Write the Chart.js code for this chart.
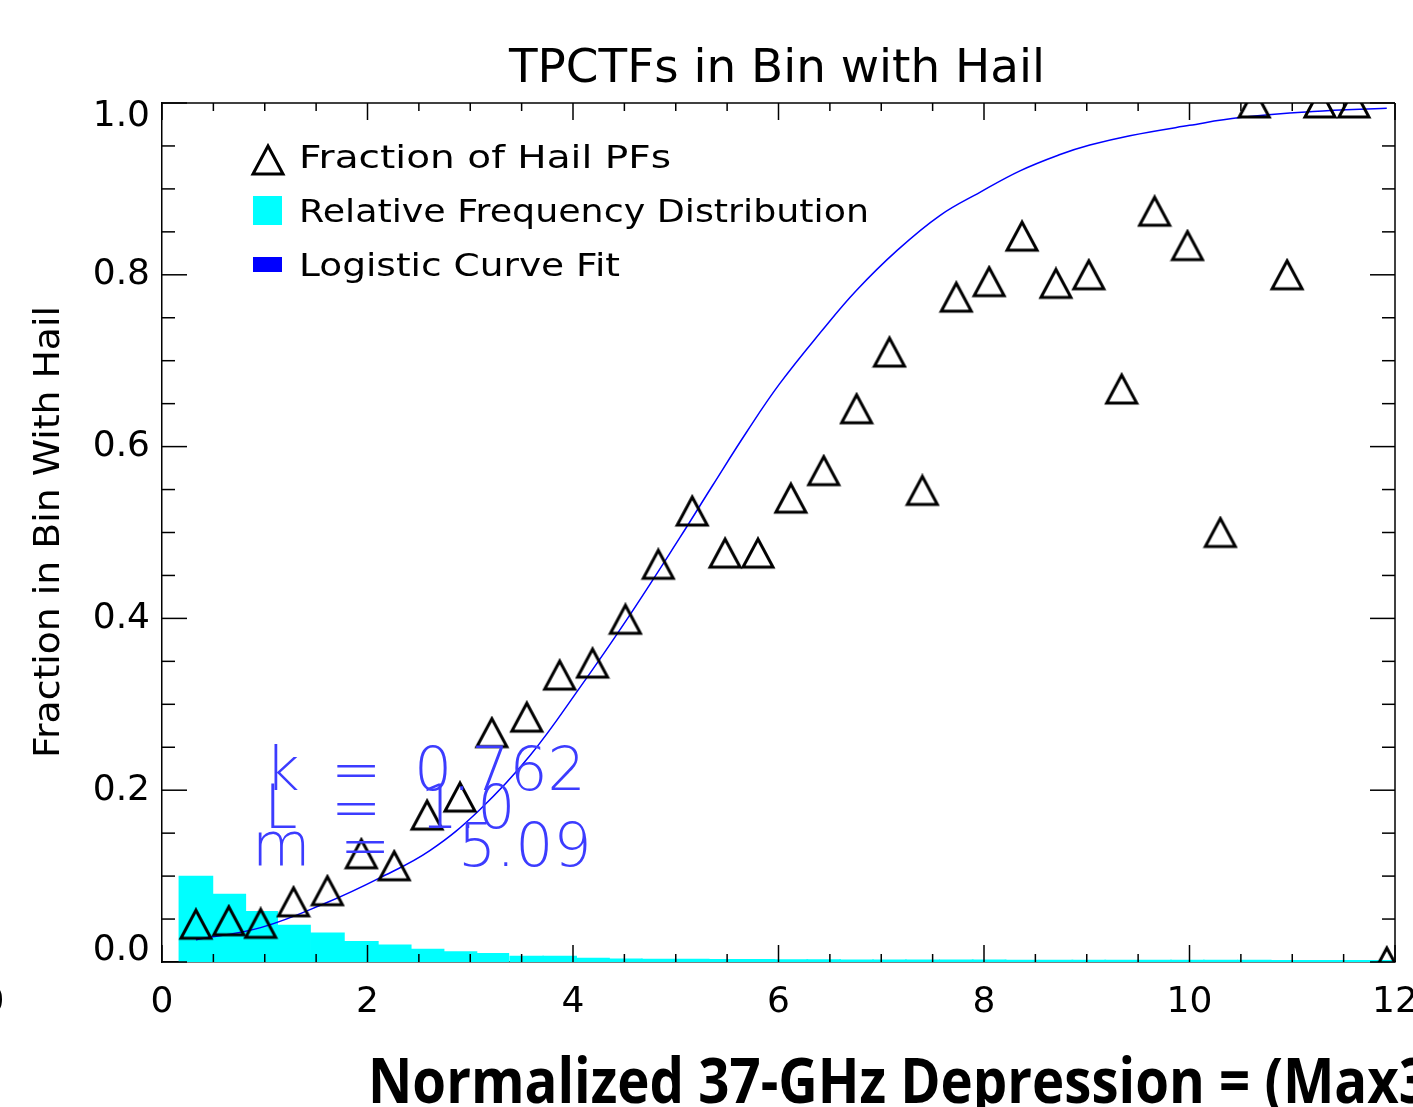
<!DOCTYPE html>
<html>
<head>
<meta charset="utf-8">
<title>TPCTFs in Bin with Hail</title>
<script src="https://cdn.jsdelivr.net/npm/chart.js@4.4.0/dist/chart.umd.min.js"></script>
<style>
	html, body { margin: 0; padding: 0; background: #fff; }
	#wrap { width: 1413px; height: 1107px; overflow: hidden; }
</style>
</head>
<body>
<div id="wrap"><canvas id="hailChart" width="1413" height="1107"></canvas></div>
<script>
"use strict"

// bin centres along the normalized 37-GHz depression axis
const binCenters = [0.33, 0.65, 0.96, 1.28, 1.61, 1.94, 2.26, 2.58, 2.90, 3.21, 3.55, 3.87, 4.19, 4.51, 4.83, 5.16, 5.48, 5.80, 6.12, 6.44, 6.76, 7.08, 7.40, 7.73, 8.05, 8.37, 8.70, 9.02, 9.34, 9.66, 9.98, 10.30, 10.63, 10.95, 11.27, 11.60, 11.92]

// triangles: fraction of hail PFs in each bin
const hailFraction = [0.044, 0.048, 0.045, 0.070, 0.083, 0.126, 0.112, 0.171, 0.192, 0.267, 0.285, 0.334, 0.348, 0.399, 0.463, 0.525, 0.476, 0.476, 0.540, 0.572, 0.644, 0.710, 0.549, 0.774, 0.792, 0.845, 0.790, 0.800, 0.667, 0.874, 0.834, 0.500, 1.0, 0.800, 1.0, 1.0, 0.0]

// cyan histogram: relative frequency distribution
const relFrequency = [0.100, 0.079, 0.059, 0.043, 0.034, 0.024, 0.020, 0.015, 0.012, 0.010, 0.007, 0.007, 0.0047, 0.0037, 0.0035, 0.0033, 0.003, 0.003, 0.0028, 0.0027, 0.0026, 0.0025, 0.0025, 0.0024, 0.0024, 0.0023, 0.0023, 0.0022, 0.0022, 0.0022, 0.0021, 0.0021, 0.0021, 0.002, 0.002, 0.002, 0.002]

// blue logistic fit
const fitX = [0.33, 0.96, 1.60, 2.12, 2.61, 3.09, 3.58, 4.07, 4.52, 5.04, 5.36, 5.69, 6.01, 6.43, 6.76, 7.16, 7.57, 7.96, 8.35, 8.74, 9.03, 9.42, 10.0, 10.49, 11.2, 11.92]
const fitY = [0.026, 0.040, 0.069, 0.098, 0.130, 0.177, 0.240, 0.320, 0.398, 0.494, 0.555, 0.617, 0.673, 0.736, 0.782, 0.829, 0.869, 0.896, 0.921, 0.940, 0.951, 0.962, 0.974, 0.983, 0.990, 0.994]

const fitParams = [["k", "0.762"], ["L", "1.0"], ["m", "5.09"]]

const xTickValues = [0, 2, 4, 6, 8, 10, 12]
const yTickValues = [0, 0.2, 0.4, 0.6, 0.8, 1.0]

const legendLabels = ["Fraction of Hail PFs", "Relative Frequency Distribution", "Logistic Curve Fit"]

// open triangle marker, centred on the data point
const triangle = document.createElement("canvas")
triangle.width = 36
triangle.height = 34
let tctx = triangle.getContext("2d")
tctx.lineWidth = 3
tctx.strokeStyle = "#000"
tctx.beginPath()
tctx.moveTo(18, 3)
tctx.lineTo(33, 31)
tctx.lineTo(3, 31)
tctx.closePath()
tctx.stroke()

function fitText(ctx, text, x, y, width, font, color, align) {
	ctx.save()
	ctx.font = font
	ctx.fillStyle = color
	ctx.textBaseline = "alphabetic"
	ctx.textAlign = "left"
	let w = ctx.measureText(text).width
	ctx.translate(x, y)
	ctx.scale(width / w, 1)
	ctx.fillText(text, align === "center" ? -w / 2 : 0, 0)
	ctx.restore()
}

function line(ctx, x1, y1, x2, y2) {
	ctx.beginPath()
	ctx.moveTo(x1, y1)
	ctx.lineTo(x2, y2)
	ctx.stroke()
}

const idlFrame = {
	id: "idlFrame",
	afterDatasetsDraw(chart) {
		let ctx = chart.ctx
		let { left, right, top, bottom } = chart.chartArea
		let xs = chart.scales.x
		let ys = chart.scales.y
		ctx.save()
		ctx.strokeStyle = "#000"
		ctx.lineWidth = 1.5
		line(ctx, left, top, right, top)
		line(ctx, right, top, right, bottom)

		// inward ticks on all four sides
		let xStep = (xTickValues[1] - xTickValues[0]) / 4
		for (let v = xTickValues[0]; v <= xTickValues[xTickValues.length - 1] + 1e-6; v += xStep) {
			let px = xs.getPixelForValue(v)
			let major = xTickValues.some((t) => Math.abs(t - v) < 1e-6)
			let len = major ? 17 : 8
			line(ctx, px, bottom, px, bottom - len)
			line(ctx, px, top, px, top + len)
		}
		let yStep = (yTickValues[1] - yTickValues[0]) / 4
		for (let v = yTickValues[0]; v <= yTickValues[yTickValues.length - 1] + 1e-6; v += yStep) {
			let py = ys.getPixelForValue(v)
			let major = yTickValues.some((t) => Math.abs(t - v) < 1e-6)
			let len = major ? 25 : 13
			line(ctx, left, py, left + len, py)
			line(ctx, right, py, right - len, py)
		}

		// y tick labels, end ones pulled inside the frame
		ctx.font = "36px 'DejaVu Sans'"
		ctx.fillStyle = "#000"
		ctx.textAlign = "right"
		ctx.textBaseline = "middle"
		yTickValues.forEach((v) => {
			let py = Math.min(Math.max(ys.getPixelForValue(v), top + 14), bottom - 11)
			ctx.fillText(v.toFixed(1), left - 12, py)
		})
		ctx.restore()
	},
	afterDraw(chart) {
		let ctx = chart.ctx
		ctx.save()

		// title
		fitText(ctx, "TPCTFs in Bin with Hail", 777, 82, 536, "46px 'DejaVu Sans'", "#000", "center")

		// legend inside the plot
		ctx.drawImage(triangle, 268 - 18, 160 - 17)
		ctx.fillStyle = "#00ffff"
		ctx.fillRect(253, 196, 29, 29)
		ctx.fillStyle = "#0000ff"
		ctx.fillRect(253, 257, 29, 15)
		fitText(ctx, legendLabels[0], 299, 168, 372, "32px 'DejaVu Sans'", "#000")
		fitText(ctx, legendLabels[1], 299, 222, 570, "32px 'DejaVu Sans'", "#000")
		fitText(ctx, legendLabels[2], 299, 276, 321, "32px 'DejaVu Sans'", "#000")

		// fit parameters
		ctx.font = "200 60px 'DejaVu Sans'"
		ctx.fillStyle = "#3c3cff"
		ctx.textBaseline = "alphabetic"
		ctx.textAlign = "left"
		let rows = [
			{ baseline: 790, nameX: 265, eqX: 331, valX: 414 },
			{ baseline: 828, nameX: 264, eqX: 331, valX: 420 },
			{ baseline: 866, nameX: 252, eqX: 340, valX: 458 },
		]
		fitParams.forEach(([name, val], i) => {
			let r = rows[i]
			ctx.fillText(name, r.nameX, r.baseline)
			ctx.fillText("=", r.eqX, r.baseline)
			ctx.fillText(val, r.valX, r.baseline)
		})

		// y axis title
		ctx.save()
		ctx.translate(59, 532)
		ctx.rotate(-Math.PI / 2)
		fitText(ctx, "Fraction in Bin With Hail", 0, 0, 452, "36px 'DejaVu Sans'", "#000", "center")
		ctx.restore()

		// x axis title (runs off the right edge)
		fitText(ctx, "Normalized 37-GHz Depression = (Max3", 368, 1103, 1062, "bold 62px 'Open Sans'", "#000")

		// stray glyph at the left edge
		ctx.font = "36px 'DejaVu Sans'"
		ctx.fillStyle = "#000"
		ctx.textAlign = "center"
		ctx.textBaseline = "middle"
		ctx.fillText("0", -7, 1003)
		ctx.restore()
	},
}

let ctx = document.getElementById("hailChart").getContext("2d")

let chart = new Chart(ctx, {
	type: "bar",
	data: {
		datasets: [
			{
				type: "line",
				label: legendLabels[0],
				data: binCenters.map((x, i) => ({ x: x, y: hailFraction[i] })),
				showLine: false,
				pointStyle: triangle,
				pointRadius: 17,
				clip: 0,
				order: 0,
			},
			{
				type: "line",
				label: legendLabels[2],
				data: fitX.map((x, i) => ({ x: x, y: fitY[i] })),
				borderColor: "#0000ff",
				borderWidth: 1.5,
				pointRadius: 0,
				tension: 0.4,
				fill: false,
				order: 1,
			},
			{
				type: "bar",
				label: legendLabels[1],
				data: binCenters.map((x, i) => ({ x: x, y: relFrequency[i] })),
				backgroundColor: "#00ffff",
				borderWidth: 0,
				barThickness: 34,
				order: 2,
			},
		],
	},
	options: {
		responsive: false,
		maintainAspectRatio: false,
		animation: false,
		devicePixelRatio: 1,
		layout: { padding: { top: 103, right: 17, left: 0, bottom: 0 } },
		plugins: {
			legend: { display: false },
			title: { display: false },
			tooltip: { enabled: false },
		},
		scales: {
			x: {
				type: "linear",
				min: 0,
				max: 12,
				offset: false,
				afterBuildTicks: (scale) => {
					scale.ticks = xTickValues.map((v) => ({ value: v }))
				},
				afterFit: (scale) => {
					scale.height = 145
					scale.paddingLeft = 0
					scale.paddingRight = 0
				},
				grid: { display: false, drawTicks: false },
				border: { display: true, color: "#000", width: 1.5 },
				ticks: {
					padding: 19,
					color: "#000",
					maxRotation: 0,
					autoSkip: false,
					font: { family: "DejaVu Sans", size: 36 },
				},
			},
			y: {
				type: "linear",
				min: 0,
				max: 1,
				afterBuildTicks: (scale) => {
					scale.ticks = yTickValues.map((v) => ({ value: v }))
				},
				afterFit: (scale) => {
					scale.width = 162
					scale.paddingTop = 0
					scale.paddingBottom = 0
				},
				grid: { display: false, drawTicks: false },
				border: { display: true, color: "#000", width: 1.5 },
				ticks: { display: false },
			},
		},
	},
	plugins: [idlFrame],
})
</script>
</body>
</html>
